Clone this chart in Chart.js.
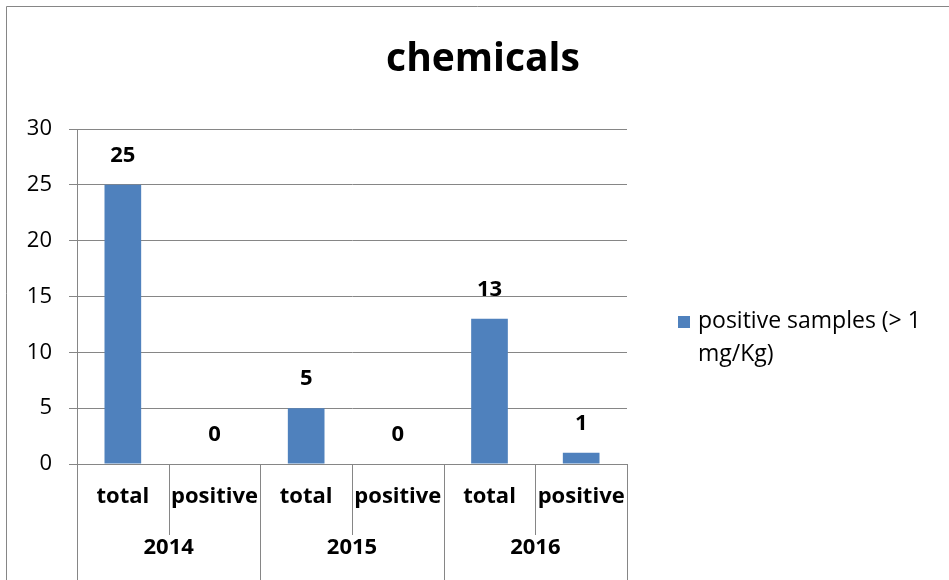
<!DOCTYPE html>
<html>
<head>
<meta charset="utf-8">
<script src="https://cdn.jsdelivr.net/npm/chart.js@4"></script>
<style>
  body { margin: 0; background: #fff; }
  canvas { display: block; }
</style>
</head>
<body>
<canvas id="chart" width="949" height="580"></canvas>
<script>
// chart data
const years = ["2014", "2015", "2016"];
const kinds = ["total", "positive"];
const values = [25, 0, 5, 0, 13, 1];
const yTicks = [0, 5, 10, 15, 20, 25, 30];
const seriesName = ["positive samples (> 1", "mg/Kg)"];
const title = "chemicals";

const FONT = "'Open Sans', Lato, sans-serif";
const GRID = "#868686";
const BAR = "#4F81BD";

let labels = [];
years.forEach(function (y) {
    kinds.forEach(function (k) { labels.push(k); });
});

// title, legend, frame, value labels and two-level category axis
const decorations = {
    id: "decorations",
    afterDraw: function (chart) {
        let ctx = chart.ctx;
        let x = chart.scales.x;
        let area = chart.chartArea;
        ctx.save();

        // outer frame
        ctx.strokeStyle = GRID;
        ctx.lineWidth = 1;
        ctx.beginPath();
        ctx.moveTo(6.5, 580);
        ctx.lineTo(6.5, 6.5);
        ctx.lineTo(949, 6.5);
        ctx.stroke();

        // title
        ctx.fillStyle = "#000";
        ctx.font = "bold 39px " + FONT;
        ctx.textAlign = "center";
        ctx.textBaseline = "middle";
        ctx.fillText(title, 483, 60);

        // value labels
        ctx.font = "bold 22px " + FONT;
        chart.getDatasetMeta(0).data.forEach(function (bar, i) {
            ctx.fillText(String(values[i]), bar.x, bar.y - 29);
        });

        // category separators
        let n = labels.length;
        let step = (x.right - x.left) / n;
        ctx.strokeStyle = GRID;
        ctx.beginPath();
        for (let i = 0; i <= n; i++) {
            let px = Math.round(x.left + step * i) + 0.5;
            let bottom = (i % kinds.length === 0) ? 580 : 535;
            ctx.moveTo(px, area.bottom);
            ctx.lineTo(px, bottom);
        }
        ctx.stroke();

        // category labels
        ctx.fillStyle = "#000";
        ctx.font = "bold 22px " + FONT;
        labels.forEach(function (lbl, i) {
            ctx.fillText(lbl, x.getPixelForValue(i), 497);
        });
        years.forEach(function (yr, g) {
            let cx = x.left + step * kinds.length * (g + 0.5);
            ctx.fillText(yr, cx, 548);
        });

        // legend
        ctx.fillStyle = BAR;
        ctx.fillRect(678, 316, 12, 12);
        ctx.fillStyle = "#000";
        ctx.font = "23px " + FONT;
        ctx.textAlign = "left";
        ctx.fillText(seriesName[0], 698, 321);
        ctx.fillText(seriesName[1], 698, 354);

        ctx.restore();
    }
};

new Chart(document.getElementById("chart"), {
    type: "bar",
    data: {
        labels: labels,
        datasets: [{
            label: seriesName.join(" "),
            data: values,
            backgroundColor: BAR,
            categoryPercentage: 1,
            barPercentage: 0.4
        }]
    },
    options: {
        responsive: false,
        animation: false,
        layout: { padding: { left: 0, top: 129, right: 322, bottom: 116 } },
        plugins: {
            legend: { display: false },
            title: { display: false },
            tooltip: { enabled: false }
        },
        scales: {
            x: { display: false },
            y: {
                min: 0,
                max: 30,
                afterFit: function (scale) { scale.width = 77; },
                afterBuildTicks: function (scale) {
                    scale.ticks = yTicks.map(function (v) { return { value: v }; });
                },
                grid: { color: GRID, tickLength: 8, tickColor: GRID },
                border: { display: true, color: GRID },
                ticks: {
                    padding: 17,
                    color: "#000",
                    font: { family: FONT, size: 22 }
                }
            }
        }
    },
    plugins: [decorations]
});
</script>
</body>
</html>
